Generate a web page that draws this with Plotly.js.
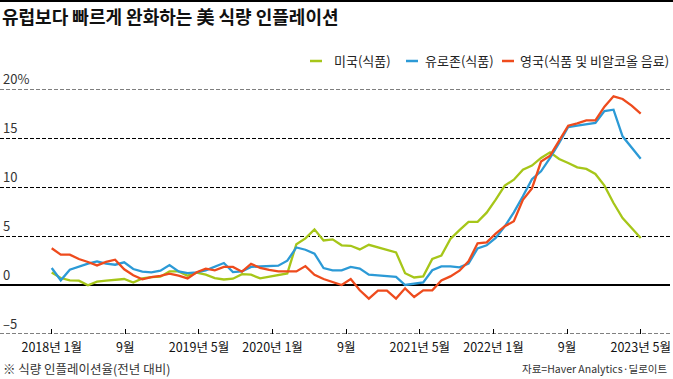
<!DOCTYPE html>
<html>
<head>
<meta charset="utf-8">
<script src="https://cdn.plot.ly/plotly-3.0.1.min.js"></script>
<style>
  html, body { margin: 0; padding: 0; background: #fff; }
  #chart { width: 673px; height: 379px; }
</style>
</head>
<body>
<div id="chart"></div>
<script>
// ---- Data (monthly, year-on-year %) ----
const months = [
  '2018-01','2018-02','2018-03','2018-04','2018-05','2018-06','2018-07','2018-08','2018-09','2018-10','2018-11','2018-12',
  '2019-01','2019-02','2019-03','2019-04','2019-05','2019-06','2019-07','2019-08','2019-09','2019-10','2019-11','2019-12',
  '2020-01','2020-02','2020-03','2020-04','2020-05','2020-06','2020-07','2020-08','2020-09','2020-10','2020-11','2020-12',
  '2021-01','2021-02','2021-03','2021-04','2021-05','2021-06','2021-07','2021-08','2021-09','2021-10','2021-11','2021-12',
  '2022-01','2022-02','2022-03','2022-04','2022-05','2022-06','2022-07','2022-08','2022-09','2022-10','2022-11','2022-12',
  '2023-01','2023-02','2023-03','2023-04','2023-05','2023-06'
];

const usFood = [
  1.28,0.71,0.47,0.44,-0.03,0.34,0.44,0.54,0.61,0.25,0.68,0.81,
  0.85,1.39,1.39,0.95,1.25,1.05,0.71,0.56,0.64,1.10,1.05,0.68,
  0.85,1.05,1.18,4.16,4.76,5.68,4.55,4.66,4.05,4.00,3.63,4.10,
  3.84,3.57,3.33,1.20,0.77,0.88,2.65,3.00,4.70,5.60,6.45,6.45,
  7.38,8.71,10.14,10.75,11.77,12.18,12.96,13.54,12.86,12.45,12.00,11.84,
  11.33,10.14,8.37,6.84,5.80,4.80
];

const euroFood = [
  1.73,0.48,1.56,1.90,2.18,2.41,2.18,2.07,2.31,1.63,1.36,1.29,
  1.46,2.04,1.39,1.22,1.29,1.50,1.85,2.24,1.32,1.40,1.85,1.87,
  1.90,1.97,2.48,3.83,3.60,3.20,1.73,1.50,1.50,1.85,1.67,1.05,
  0.99,0.92,0.82,0.00,0.14,0.27,1.50,1.90,1.90,1.80,2.18,3.74,
  4.05,4.80,5.99,7.41,9.05,10.80,11.60,12.96,14.50,16.12,16.26,16.36,
  16.53,17.75,17.89,15.17,14.00,12.89
];

const ukFood = [
  3.75,3.10,3.10,2.65,2.35,2.00,2.35,2.58,1.60,1.00,0.58,0.80,
  0.92,1.16,0.95,0.67,1.30,1.67,1.50,1.85,1.85,1.36,2.15,1.75,
  1.55,1.39,1.39,1.39,1.93,1.05,0.61,0.32,0.00,0.61,-0.54,-1.39,
  -0.58,-0.58,-1.39,-0.34,-1.22,-0.54,-0.54,0.46,0.88,1.46,2.41,4.25,
  4.35,5.24,6.00,6.50,8.70,9.86,12.60,13.20,14.80,16.26,16.50,16.80,
  16.80,18.20,19.25,18.98,18.30,17.48
];

const seriesNames = ['미국(식품)', '유로존(식품)', '영국(식품 및 비알코올 음료)'];
const seriesColors = ['#a6c619', '#2c9ad6', '#ee4b1d'];

const xTickText = ['2018년 1월','9월','2019년 5월','2020년 1월','9월','2021년 5월','2022년 1월','9월','2023년 5월'];
const yTickVals = [-5, 0, 5, 10, 15, 20];
const yTickText = ['–5', '0', '5', '10', '15', '20%'];

const titleText = '유럽보다 빠르게 완화하는 美 식량 인플레이션';
const noteText = '※ 식량 인플레이션율(전년 대비)';
const sourceText = '자료=Haver Analytics·딜로이트';

// ---- Layout geometry (pixels) ----
const W = 673, H = 379;
const M = { l: 0, r: 3, t: 89, b: 45 };
const plotW = W - M.l - M.r, plotH = H - M.t - M.b;
const firstPx = 51.7, lastPx = 640.7;           // where the first / last month sit
const idx = months.map((_, i) => i);
const n = months.length - 1;
const pxPerIdx = (lastPx - firstPx) / n;
const xRange = [-firstPx / pxPerIdx, n + (plotW - lastPx) / pxPerIdx];
const xTickVals = xTickText.map((_, k) => k * n / (xTickText.length - 1));

const FONT = '"Noto Sans CJK KR", "Noto Sans", sans-serif';
const px = x => (x - M.l) / plotW;
const py = y => (H - M.b - y) / plotH;

const data = [usFood, euroFood, ukFood].map((vals, i) => ({
  type: 'scatter',
  mode: 'lines',
  x: idx,
  y: vals,
  text: months,
  name: seriesNames[i],
  line: { color: seriesColors[i], width: 2.3 },
  hovertemplate: '%{text}: %{y}%<extra>' + seriesNames[i] + '</extra>',
  showlegend: false
}));

// Custom legend (short line samples, like the reference)
const legendLines = [[310, 322], [406, 418], [502, 514]];
const legendTextX = [332, 423, 518];
const legendY = 61;

const shapes = [
  { type: 'line', xref: 'paper', yref: 'paper', x0: px(0), x1: px(W), y0: py(1), y1: py(1),
    line: { color: '#000', width: 2 } }
];
legendLines.forEach((ln, i) => {
  shapes.push({ type: 'line', xref: 'paper', yref: 'paper',
    x0: px(ln[0]), x1: px(ln[1]), y0: py(legendY), y1: py(legendY),
    line: { color: seriesColors[i], width: 2.5 } });
});
// dashed rules at the range ends (-5 and 20), which Plotly leaves out of the grid
[-5, 20].forEach(v => shapes.push({ type: 'line', xref: 'paper', yref: 'y', x0: 0, x1: 1, y0: v, y1: v,
  line: { color: '#000', width: 1, dash: '4px,2px' } }));

const annotations = seriesNames.map((nm, i) => ({
  xref: 'paper', yref: 'paper', x: px(legendTextX[i]), y: py(legendY),
  xanchor: 'left', yanchor: 'middle', showarrow: false, text: nm,
  font: { family: FONT, size: 13, color: '#222' }
}));
annotations.push({
  xref: 'paper', yref: 'paper', x: px(2), y: py(368), xanchor: 'left', yanchor: 'middle',
  showarrow: false, borderpad: 0, text: noteText, font: { family: FONT, size: 12.5, color: '#333' }
});
annotations.push({
  xref: 'paper', yref: 'paper', x: px(669), y: py(368), xanchor: 'right', yanchor: 'middle',
  showarrow: false, borderpad: 0, text: sourceText, font: { family: FONT, size: 10.5, color: '#333' }
});

const layout = {
  width: W, height: H,
  margin: M,
  paper_bgcolor: '#fff', plot_bgcolor: '#fff',
  font: { family: FONT, color: '#222', size: 12 },
  title: {
    text: '<b>' + titleText + '</b>',
    x: 2 / W, xanchor: 'left', xref: 'container',
    y: 1 - 18 / H, yanchor: 'middle', yref: 'container',
    font: { family: FONT, size: 18, color: '#111' }
  },
  xaxis: {
    type: 'linear',
    range: xRange,
    tickmode: 'array', tickvals: xTickVals, ticktext: xTickText,
    ticks: 'inside', ticklen: 5, tickwidth: 1, tickcolor: '#000',
    ticklabelstandoff: 4,
    showgrid: false, zeroline: false, showline: false,
    tickfont: { family: FONT, size: 12.5, color: '#111' },
    fixedrange: true
  },
  yaxis: {
    range: [-5, 20],
    tickmode: 'array', tickvals: yTickVals, ticktext: yTickText,
    ticks: '', showline: false,
    ticklabelposition: 'inside top',
    ticklabeloverflow: 'allow',
    tickfont: { family: FONT, size: 13, color: '#333' },
    showgrid: true, gridcolor: '#000', gridwidth: 1, griddash: '4px,2px',
    zeroline: true, zerolinecolor: '#000', zerolinewidth: 1.6,
    fixedrange: true
  },
  shapes: shapes,
  annotations: annotations,
  showlegend: false
};

Plotly.newPlot('chart', data, layout, { displayModeBar: false, staticPlot: true });
</script>
</body>
</html>
